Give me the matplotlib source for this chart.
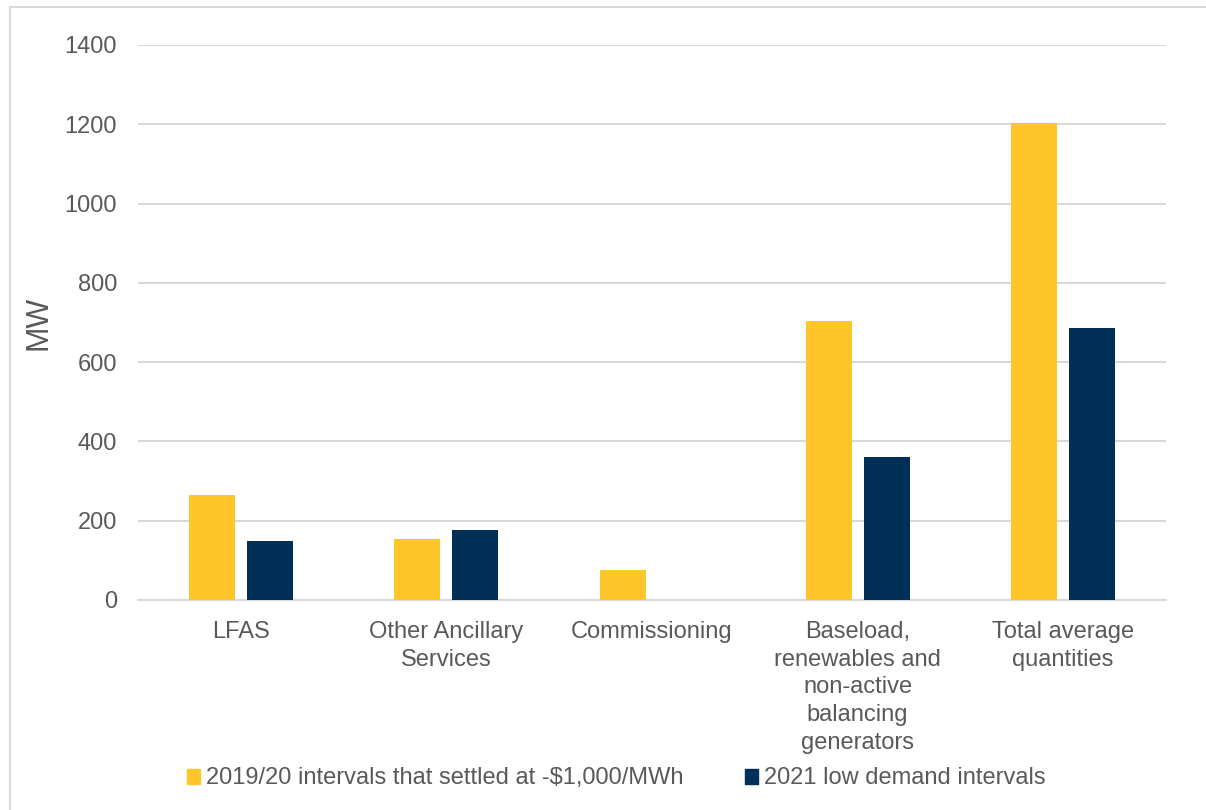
import numpy as np
import matplotlib.pyplot as plt
from matplotlib.lines import Line2D

categories = ["LFAS", "Other Ancillary\nServices", "Commissioning",
              "Baseload,\nrenewables and\nnon-active\nbalancing\ngenerators",
              "Total average\nquantities"]
series_names = ["2019/20 intervals that settled at -$1,000/MWh",
                "2021 low demand intervals"]
mw_2019 = [265, 154, 76, 704, 1204]
mw_2021 = [150, 176, 0, 360, 686]

yellow = "#FFC629"
navy = "#003057"
grey = "#595959"
grid = "#D9D9D9"

plt.rcParams['font.family'] = ['Liberation Sans', 'DejaVu Sans']

fig = plt.figure(figsize=(12.06, 8.10), dpi=100)
ax = fig.add_axes([0.1144, 0.2593, 0.8524, 0.6852])

x = np.arange(len(categories))
w = 0.224
off = 0.141
ax.bar(x - off, mw_2019, w, color=yellow, label=series_names[0], zorder=3)
ax.bar(x + off, mw_2021, w, color=navy, label=series_names[1], zorder=3)

ax.set_xlim(-0.5, len(categories) - 0.5)
ax.set_ylim(0, 1400)
ax.set_yticks(range(0, 1401, 200))
ax.yaxis.grid(True, color=grid, linewidth=1.5, zorder=0)
ax.set_axisbelow(True)
for s in ["top", "right", "left"]:
    ax.spines[s].set_visible(False)
ax.spines["bottom"].set_color(grid)
ax.spines["bottom"].set_linewidth(1.5)

ax.set_xticks(x)
ax.set_xticklabels(categories, fontsize=17, color=grey, linespacing=1.34, va="top")
ax.tick_params(axis="x", length=0, pad=15)
ax.tick_params(axis="y", length=0, pad=15, labelsize=17, labelcolor=grey)
ax.set_ylabel("MW", fontsize=22, color=grey)
ax.yaxis.set_label_coords(-0.082, 0.5)

handles = [plt.Rectangle((0, 0), 1, 1, color=yellow), plt.Rectangle((0, 0), 1, 1, color=navy)]
fig.legend(handles, series_names, loc="center", bbox_to_anchor=(0.511, 0.039),
           ncol=2, frameon=False, fontsize=17, labelcolor=grey,
           handlelength=0.55, handleheight=0.6, handletextpad=0.25, columnspacing=2.6)

# thin frame around the chart area
fig.add_artist(Line2D([10 / 1206, 1], [1 - 7 / 810, 1 - 7 / 810], color=grid, linewidth=1.5))
fig.add_artist(Line2D([10 / 1206, 10 / 1206], [0, 1 - 7 / 810], color=grid, linewidth=1.5))

fig.savefig("out.png", dpi=100)
